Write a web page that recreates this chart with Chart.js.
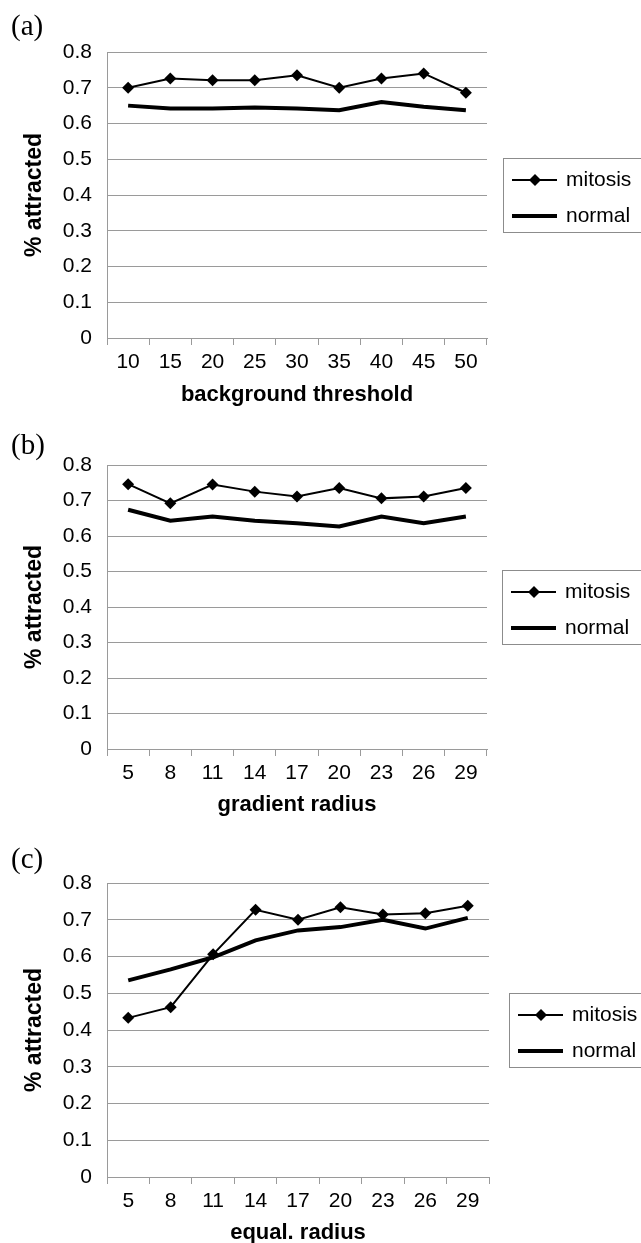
<!DOCTYPE html>
<html lang="en">
<head>
  <meta charset="UTF-8" />
  <title>% attracted</title>
  <script src="https://cdn.jsdelivr.net/npm/chart.js"></script>
  <style>
    html, body { margin: 0; padding: 0; background: #fff; }
    body { width: 641px; height: 1243px; position: relative; overflow: hidden; }
    .panel { position: absolute; left: 0; width: 641px; }
    .panel canvas { position: absolute; left: 0; top: 0; }
    .tag {
      position: absolute; left: 11px; z-index: 2;
      font-family: 'Liberation Serif', 'Times New Roman', serif;
      font-size: 29px; line-height: 1; color: #000;
    }
  </style>
</head>
<body>
  <div class="panel" style="top:0;height:430px">
    <div class="tag" style="top:11px">(a)</div>
    <canvas id="chartA" width="641" height="430"></canvas>
  </div>
  <div class="panel" style="top:420px;height:410px">
    <div class="tag" style="top:10px">(b)</div>
    <canvas id="chartB" width="641" height="410"></canvas>
  </div>
  <div class="panel" style="top:820px;height:440px">
    <div class="tag" style="top:24px">(c)</div>
    <canvas id="chartC" width="641" height="440"></canvas>
  </div>

  <script>
    // categories
    const thresholdLabels = ['10', '15', '20', '25', '30', '35', '40', '45', '50'];
    const radiusLabels = ['5', '8', '11', '14', '17', '20', '23', '26', '29'];

    // (a) background threshold
    const mitosisA = [0.700, 0.726, 0.721, 0.721, 0.735, 0.700, 0.726, 0.740, 0.686];
    const normalA  = [0.650, 0.642, 0.642, 0.645, 0.642, 0.637, 0.660, 0.647, 0.637];

    // (b) gradient radius
    const mitosisB = [0.746, 0.692, 0.745, 0.725, 0.711, 0.735, 0.706, 0.711, 0.735];
    const normalB  = [0.674, 0.643, 0.655, 0.643, 0.636, 0.627, 0.655, 0.636, 0.655];

    // (c) equal. radius
    const mitosisC = [0.433, 0.462, 0.606, 0.727, 0.700, 0.734, 0.714, 0.718, 0.738];
    const normalC  = [0.535, 0.565, 0.598, 0.644, 0.671, 0.680, 0.700, 0.676, 0.705];

    const FONT = "'Liberation Sans', Arial, sans-serif";
    const GRID = '#9a9a9a';

    // Boxed legend to the right of the plot, like the original figure
    const boxLegend = {
      id: 'boxLegend',
      afterDraw(chart, args, opts) {
        const { ctx, chartArea } = chart;
        const h = 74;
        const x = opts.left;
        const y = Math.round((chartArea.top + chartArea.bottom) / 2 - h / 2);
        ctx.save();
        ctx.strokeStyle = '#8c8c8c';
        ctx.lineWidth = 1;
        ctx.strokeRect(x + 0.5, y + 0.5, chart.width - x + 10, h);
        chart.data.datasets.forEach((ds, i) => {
          const ry = y + 22 + i * 36;
          ctx.strokeStyle = ds.borderColor;
          ctx.lineWidth = ds.borderWidth;
          ctx.beginPath();
          ctx.moveTo(x + 9, ry);
          ctx.lineTo(x + 54, ry);
          ctx.stroke();
          if (ds.pointRadius > 0) {
            const r = ds.pointRadius;
            ctx.fillStyle = '#000';
            ctx.beginPath();
            ctx.moveTo(x + 32, ry - r);
            ctx.lineTo(x + 32 + r, ry);
            ctx.lineTo(x + 32, ry + r);
            ctx.lineTo(x + 32 - r, ry);
            ctx.closePath();
            ctx.fill();
          }
          ctx.fillStyle = '#000';
          ctx.font = '21px ' + FONT;
          ctx.textBaseline = 'middle';
          ctx.fillText(ds.label, x + 63, ry);
        });
        ctx.restore();
      }
    };

    function makePanel(id, cats, mitosis, normal, xTitle, box) {
      const canvas = document.getElementById(id);
      const H = canvas.height;
      const xh = Math.round(box.titleY + 13.2 - box.bottom);
      return new Chart(canvas.getContext('2d'), {
        type: 'line',
        data: {
          labels: cats,
          datasets: [
            {
              label: 'mitosis',
              data: mitosis,
              borderColor: '#000',
              borderWidth: 2,
              pointStyle: 'rectRot',
              pointRadius: 6,
              pointBackgroundColor: '#000',
              pointBorderWidth: 0,
              tension: 0
            },
            {
              label: 'normal',
              data: normal,
              borderColor: '#000',
              borderWidth: 4,
              pointRadius: 0,
              tension: 0
            }
          ]
        },
        options: {
          responsive: false,
          animation: false,
          layout: {
            padding: { left: 0, top: box.top, right: 641 - box.right, bottom: H - box.bottom - xh }
          },
          plugins: {
            legend: { display: false },
            tooltip: { enabled: false },
            boxLegend: { left: box.legendLeft }
          },
          scales: {
            x: {
              type: 'category',
              offset: true,
              grid: { offset: true, drawOnChartArea: false, drawTicks: true, tickLength: 7, color: GRID },
              border: { display: true, color: GRID },
              ticks: { color: '#000', font: { family: FONT, size: 21 }, padding: 5, maxRotation: 0, autoSkip: false },
              title: { display: true, text: xTitle, color: '#000', font: { family: FONT, size: 22, weight: 'bold' }, padding: 0 },
              afterFit(scale) { scale.height = xh; }
            },
            y: {
              min: 0,
              max: 0.8,
              ticks: { stepSize: 0.1, color: '#000', font: { family: FONT, size: 21 }, padding: 15 },
              grid: { color: GRID, drawTicks: false },
              border: { display: true, color: GRID },
              title: { display: true, text: '% attracted', color: '#000', font: { family: FONT, size: 23, weight: 'bold' }, padding: { top: 21, bottom: 0 } },
              afterFit(scale) { scale.width = 107; }
            }
          }
        },
        plugins: [boxLegend]
      });
    }

    makePanel('chartA', thresholdLabels, mitosisA, normalA, 'background threshold',
      { top: 52, bottom: 338, right: 487, titleY: 395, legendLeft: 503 });
    makePanel('chartB', radiusLabels, mitosisB, normalB, 'gradient radius',
      { top: 45, bottom: 329, right: 487, titleY: 385, legendLeft: 502 });
    makePanel('chartC', radiusLabels, mitosisC, normalC, 'equal. radius',
      { top: 63, bottom: 357, right: 489, titleY: 413, legendLeft: 509 });
  </script>
</body>
</html>
